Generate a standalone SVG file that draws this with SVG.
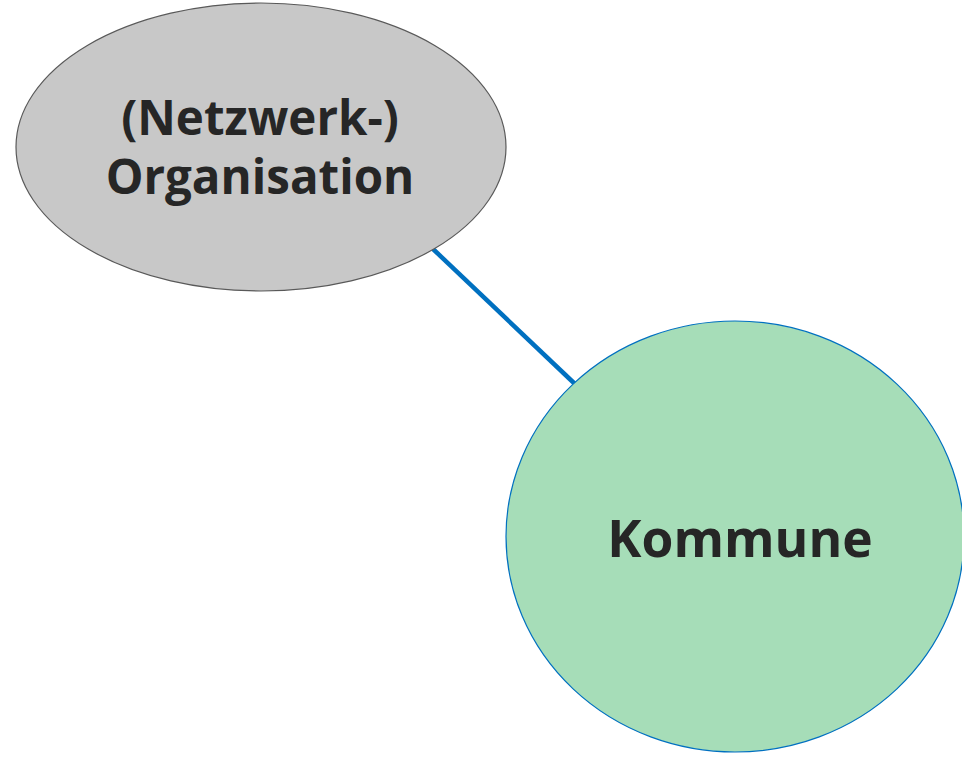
<svg xmlns="http://www.w3.org/2000/svg" width="962" height="758" viewBox="0 0 962 758">
<style>
.lbl{font-family:"Open Sans","Noto Sans",sans-serif;font-weight:bold;fill:#262626;text-anchor:middle}
</style>
<rect width="962" height="758" fill="#ffffff"/>
<g id="connectors">
<line x1="433" y1="249" x2="575" y2="384" stroke="#0070C0" stroke-width="4.5"/>
</g>
<g id="node-organisation">
<ellipse cx="261" cy="147" rx="245" ry="144" fill="#C8C8C8" stroke="#595959" stroke-width="1.2"/>
<text class="lbl" x="260" y="135" font-size="47.5">(Netzwerk-)</text>
<text class="lbl" x="260" y="194" font-size="47.5">Organisation</text>
</g>
<g id="node-kommune">
<ellipse cx="735" cy="536.5" rx="229" ry="215.5" fill="#A6DDB8" stroke="#0070C0" stroke-width="1.2"/>
<text class="lbl" x="740" y="557" font-size="51.5">Kommune</text>
</g>
</svg>
